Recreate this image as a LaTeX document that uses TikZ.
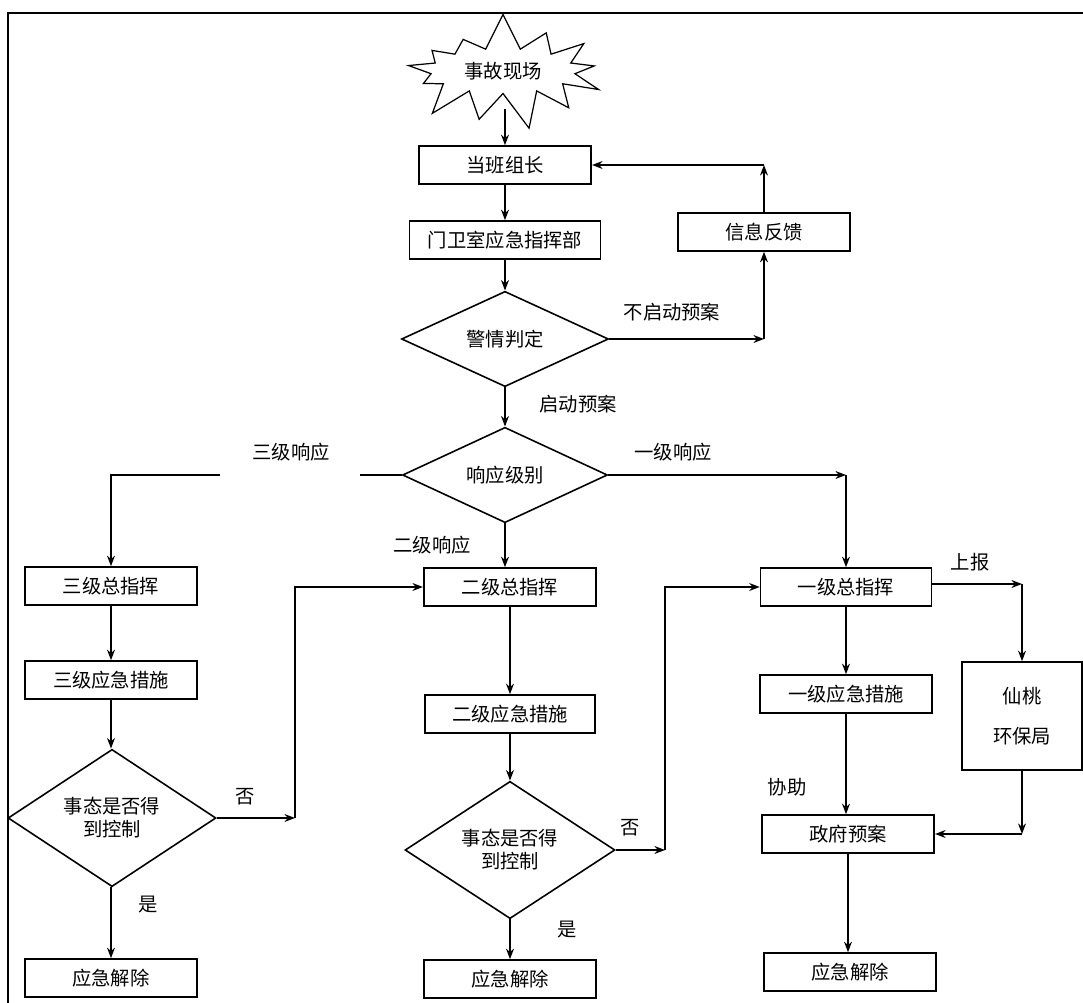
\documentclass[tikz,border=0pt]{standalone}
\usepackage{fontspec}
\newfontfamily\cjk{Noto Sans CJK SC}
\usetikzlibrary{shapes.geometric,shapes.symbols,arrows.meta}
\tikzset{
  box/.style={draw,line width=0.9pt,minimum width=3.45cm,minimum height=0.76cm,inner sep=1pt},
  choice/.style={draw,diamond,line width=0.9pt,inner sep=0pt,align=center},
  arr/.style={line width=0.9pt,-{Stealth[length=6pt,width=4.5pt]}},
  ln/.style={line width=0.9pt},
  lbl/.style={inner sep=1pt}
}
\begin{document}
\begin{tikzpicture}[x=0.02cm,y=-0.02cm,font=\cjk\fontsize{11}{13}\selectfont]
\useasboundingbox (0,0) rectangle (1083,1003);
\draw[line width=1.2pt] (8,1003) -- (8,13) -- (1083,13);

\node[draw,starburst,starburst points=13,starburst point height=0.75cm,random starburst=7,
  minimum width=4.4cm,minimum height=2.4cm,line width=0.7pt,inner sep=0pt] (scene) at (503,71) {事故现场};
\node[box] (leader) at (505,165) {当班组长};
\node[box,minimum width=3.82cm] (gate) at (505,240) {门卫室应急指挥部};
\node[box] (feedback) at (764,232) {信息反馈};
\node[choice,minimum width=4.14cm,minimum height=1.6cm] (judge) at (505,339) {警情判定};
\node[choice,minimum width=4.1cm,minimum height=1.6cm] (level) at (505,475) {响应级别};

\node[box] (cmdC) at (111,586) {三级总指挥};
\node[box] (actC) at (111,680) {三级应急措施};
\node[choice,minimum width=4.16cm,minimum height=2.54cm] (ctlC) at (112,818) {事态是否得\\到控制};
\node[box] (endC) at (111,978) {应急解除};

\node[box] (cmdB) at (510,587) {二级总指挥};
\node[box,minimum width=3.4cm] (actB) at (510,714) {二级应急措施};
\node[choice,minimum width=4.2cm,minimum height=2.52cm] (ctlB) at (510,850) {事态是否得\\到控制};
\node[box] (endB) at (510,979) {应急解除};

\node[box,minimum width=3.42cm] (cmdA) at (846,587) {一级总指挥};
\node[box] (actA) at (846,694) {一级应急措施};
\node[box] (gov) at (848,834) {政府预案};
\node[box] (endA) at (850,972) {应急解除};
\node[box,minimum width=2.4cm,minimum height=2.16cm,align=center] (epb) at (1022,716) {仙桃\\[10pt]环保局};

\node[lbl] (noplan) at (672,312) {不启动预案};
\node[lbl] (plan) at (578,404) {启动预案};
\node[lbl] (resC) at (291,452) {三级响应};
\node[lbl] (resA) at (673,452) {一级响应};
\node[lbl] (resB) at (432,545) {二级响应};
\node[lbl] (noC) at (245,797) {否};
\node[lbl] (yesC) at (148,905) {是};
\node[lbl] (noB) at (630,828) {否};
\node[lbl] (yesB) at (567,930) {是};
\node[lbl] (report) at (970,562) {上报};
\node[lbl] (assist) at (787,787) {协助};

\coordinate (sceneOut) at (505,109);
\coordinate (fbIn) at (764,339);
\coordinate (fbOut) at (764,165);
\coordinate (gapR) at (360,475);
\coordinate (gapL) at (220,475);
\coordinate (turnC) at (111,475);
\coordinate (turnA) at (846,475);
\coordinate (noCend) at (295,818);
\coordinate (noBend) at (665,850);
\coordinate (repTurn) at (1022,584);
\coordinate (epbTurn) at (1022,834);

\draw[arr] (sceneOut) -- (leader.north);
\draw[arr] (leader) -- (gate);
\draw[arr] (gate) -- (judge);
\draw[arr] (judge.east) -- (fbIn);
\draw[arr] (fbIn) -- (feedback.south);
\draw[arr] (feedback.north) -- (fbOut);
\draw[arr] (fbOut) -- (leader.east);
\draw[arr] (judge) -- (level);
\draw[ln] (level.west) -- (gapR);
\draw[arr] (gapL) -- (turnC) -- (cmdC.north);
\draw[arr] (level.east) -- (turnA);
\draw[arr] (turnA) -- (cmdA.north);
\draw[arr] (level.south) -- (cmdB.north -| level.south);

\draw[arr] (cmdC) -- (actC);
\draw[arr] (actC.south) -- (ctlC.north -| actC.south);
\draw[arr] (ctlC.south -| endC.north) -- (endC.north);
\draw[arr] (ctlC.east) -- (noCend);
\draw[arr] (noCend) |- (cmdB.west);

\draw[arr] (cmdB) -- (actB);
\draw[arr] (actB) -- (ctlB);
\draw[arr] (ctlB) -- (endB);
\draw[arr] (ctlB.east) -- (noBend);
\draw[arr] (noBend) |- (cmdA.west);

\draw[arr] (cmdA) -- (actA);
\draw[arr] (actA) -- (gov.north -| actA);
\draw[arr] (gov) -- (endA.north -| gov);
\draw[arr] (cmdA.east |- repTurn) -- (repTurn);
\draw[arr] (repTurn) -- (epb.north);
\draw[arr] (epb.south) -- (epbTurn);
\draw[arr] (epbTurn) -- (gov.east);
\end{tikzpicture}
\end{document}
